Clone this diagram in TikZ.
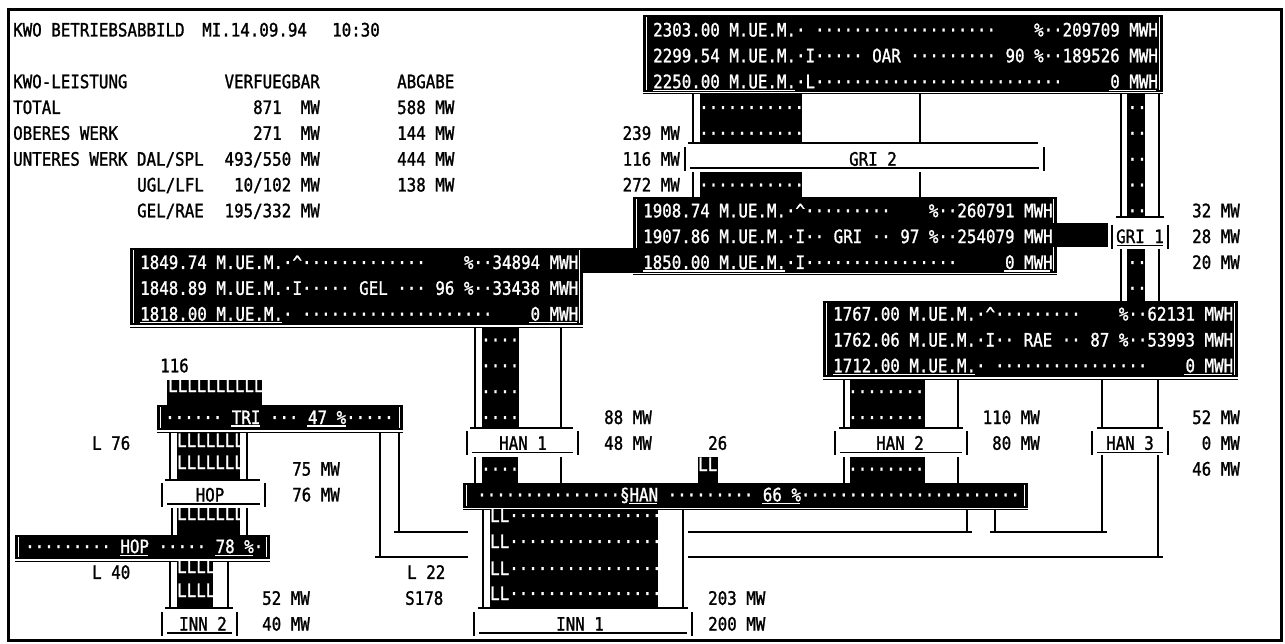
\documentclass[tikz,border=0pt]{standalone}
\usepackage{fontspec}
\newfontfamily\kwofont[FakeStretch=0.855,FakeBold=1.3]{DejaVu Sans Mono}
\newcommand\kf{\kwofont\fontsize{18.5pt}{20pt}\selectfont\frenchspacing}
\newcommand\ks{\hbox to \fontcharwd\font`0{\hfil}}
\ExplSyntaxOn
\cs_new:Npn \kwodt #1 { \prg_replicate:nn {#1} {·} }
\cs_new:Npn \kwosp #1 { \prg_replicate:nn {#1} { \ks } }
\ExplSyntaxOff
\newcommand\lbox[4]{%
  \fill[black] (#1,#2) rectangle (#3,#4);
  \draw[wln] ({#1+3.5},{#2+2}) -- ({#1+3.5},{#4-2});
  \draw[wln] ({#3-3.5},{#2+2}) -- ({#3-3.5},{#4-2});
  \draw[line width=1pt,black] (#1,{#4+2}) -- (#3,{#4+2});}
\newcommand\tk[2]{\draw[ln] ({#1-5},#2) -- ({#1+5},#2);}
\newcommand\labbox[6]{%
  \draw[ln] (#2,{#4-12}) -- (#2,{#4+12});
  \draw[ln] (#3,{#4-12}) -- (#3,{#4+12});
  \draw[ln] ({#2+5},{#4+9}) -- ({#3-5},{#4+9});
  \node[btc] (#1) at (#5,{#4+6.5}) {#6};}
\begin{document}
\begin{tikzpicture}[x=1pt,y=-1pt,
  wt/.style={font=\kf,text=white,inner sep=0pt,anchor=base west},
  bt/.style={font=\kf,text=black,inner sep=0pt,anchor=base west},
  bte/.style={bt,anchor=base east},
  btc/.style={bt,anchor=base},
  ln/.style={line width=1.5pt,black},
  wln/.style={line width=1.2pt,white}]
\useasboundingbox (0,0) rectangle (1285,644);
\fill[white] (0,0) rectangle (1285,644);
\draw[line width=3pt] (8,10) rectangle (1281,640);

% ---------------- header
\node[bt] (h1) at (13,36.5) {KWO\ks BETRIEBSABBILD};
\node[bt] (h2) at (202,36.5) {MI.14.09.94};
\node[bt] (h3) at (332,36.5) {10:30};
\node[bt] (h4) at (13,88.2) {KWO-LEISTUNG};
\node[bte] (h5) at (320,88.2) {VERFUEGBAR};
\node[bt] (h6) at (397,88.2) {ABGABE};
\node[bt] (h7) at (13,114) {TOTAL};
\node[bte] (h8) at (320,114) {871\ks\ks MW};
\node[bt] (h9) at (397,114) {588\ks MW};
\node[bt] (h10) at (13,139.8) {OBERES\ks WERK};
\node[bte] (h11) at (320,139.8) {271\ks\ks MW};
\node[bt] (h12) at (397,139.8) {144\ks MW};
\node[bt] (h13) at (13,165.7) {UNTERES\ks WERK\ks DAL/SPL};
\node[bte] (h14) at (320,165.7) {493/550\ks MW};
\node[bt] (h15) at (397,165.7) {444\ks MW};
\node[bt] (h16) at (137,191.5) {UGL/LFL};
\node[bte] (h17) at (320,191.5) {10/102\ks MW};
\node[bt] (h18) at (397,191.5) {138\ks MW};
\node[bt] (h19) at (137,217.3) {GEL/RAE};
\node[bte] (h20) at (320,217.3) {195/332\ks MW};

% ---------------- OAR
\lbox{643}{15}{1163}{92}
\node[wt] (oar1) at (653,36.5) {2303.00\ks M.UE.M.·\ks\kwodt{19}\kwosp{4}\%··209709\ks MWH};
\node[wt] (oar2) at (653,62.3) {2299.54\ks M.UE.M.·I\kwodt{5}\ks OAR\ks\kwodt{9}\ks 90\ks\%··189526\ks MWH};
\node[wt] (oar3) at (653,88.2) {2250.00\ks M.UE.M.·L\kwodt{26}\kwosp{5}0\ks MWH};
\draw[wln] (653,90.2) -- (795,90.2);
\draw[wln] (1109,90.2) -- (1156,90.2);

% feed OAR -> GRI 2 -> GRI
\fill (700,94) rectangle (802,143);
\node[wt] (f1a) at (699,114) {\kwodt{11}};
\node[wt] (f1b) at (699,139.8) {\kwodt{11}};
\fill (700,172) rectangle (802,198);
\node[wt] (f1c) at (699,191.5) {\kwodt{11}};
\draw[ln] (693,94) -- (693,143); \tk{693}{143}
\draw[ln] (920,94) -- (920,143); \tk{920}{143}
\draw[ln] (693,143) -- (1038,143);
\draw[ln] (693,172) -- (693,198);
\draw[ln] (920,172) -- (920,198);
\labbox{gri2}{685}{1044}{159.2}{873}{GRI\ks 2}
\node[bte] (m1) at (680,139.8) {239\ks MW};
\node[bte] (m2) at (680,165.7) {116\ks MW};
\node[bte] (m3) at (680,191.5) {272\ks MW};

% feed OAR -> GRI 1 -> RAE
\fill (1127,94) rectangle (1145,218);
\fill (1127,249) rectangle (1145,301);
\foreach \yy [count=\i] in {114,139.8,165.7,191.5,217.3,269,294.8}
  \node[wt] (fr\i) at (1127.5,\yy) {··};
\fill[white] (1110,219) rectangle (1170,248);
\draw[ln] (1121,94) -- (1121,217); \tk{1121}{217}
\draw[ln] (1159,94) -- (1159,217); \tk{1159}{217}
\draw[ln] (1121,217) -- (1159,217);
\draw[ln] (1121,249) -- (1121,301);
\draw[ln] (1159,249) -- (1159,301);
\labbox{gri1}{1112}{1168}{236.6}{1140}{GRI\ks 1}
\node[bte] (m4) at (1240,217.3) {32\ks MW};
\node[bte] (m5) at (1240,243.1) {28\ks MW};
\node[bte] (m6) at (1240,269) {20\ks MW};

% ---------------- GRI
\lbox{633}{197}{1057}{273}
\fill (1052,223) rectangle (1108,247);
\node[wt] (gri1t) at (643,217.3) {1908.74\ks M.UE.M.·\textasciicircum\kwodt{9}\kwosp{4}\%··260791\ks MWH};
\node[wt] (gri2t) at (643,243.1) {1907.86\ks M.UE.M.·I··\ks GRI\ks··\ks 97\ks\%··254079\ks MWH};
\node[wt] (gri3t) at (643,269) {1850.00\ks M.UE.M.·I\kwodt{16}\kwosp{5}0\ks MWH};
\draw[wln] (643,271) -- (785,271);
\draw[wln] (1004,271) -- (1050,271);

% ---------------- GEL
\lbox{130}{248.5}{583}{325}
\fill (580,248.5) rectangle (639,273);
\node[wt] (gel1) at (140,269) {1849.74\ks M.UE.M.·\textasciicircum\kwodt{13}\kwosp{4}\%··34894\ks MWH};
\node[wt] (gel2) at (140,294.8) {1848.89\ks M.UE.M.·I\kwodt{5}\ks GEL\ks···\ks 96\ks\%··33438\ks MWH};
\node[wt] (gel3) at (140,320.6) {1818.00\ks M.UE.M.·\ks\kwodt{20}\kwosp{4}0\ks MWH};
\draw[wln] (140,322.6) -- (282,322.6);
\draw[wln] (529,322.6) -- (577,322.6);

% feed GEL -> HAN 1 -> HAN
\fill (482,327) rectangle (519,428);
\foreach \yy [count=\i] in {346.5,372.3,398.1,424}
  \node[wt] (fg\i) at (481,\yy) {····};
\draw[ln] (475,327) -- (475,428); \tk{475}{428}
\draw[ln] (561,327) -- (561,428); \tk{561}{428}
\draw[ln] (475,428) -- (573,428);
\labbox{han1}{467}{578}{443.3}{523}{HAN\ks 1}
\fill (482,457) rectangle (518,483);
\node[wt] (fg5) at (481,475.6) {····};
\draw[ln] (475,457) -- (475,483);
\draw[ln] (561,457) -- (561,483);
\node[bte] (m7) at (652,424) {88\ks MW};
\node[bte] (m8) at (652,449.8) {48\ks MW};

% ---------------- RAE
\lbox{823}{301}{1238}{377}
\node[wt] (rae1) at (833,320.6) {1767.00\ks M.UE.M.·\textasciicircum\kwodt{9}\kwosp{4}\%··62131\ks MWH};
\node[wt] (rae2) at (833,346.5) {1762.06\ks M.UE.M.·I··\ks RAE\ks··\ks 87\ks\%··53993\ks MWH};
\node[wt] (rae3) at (833,372.3) {1712.00\ks M.UE.M.·\ks\kwodt{16}\kwosp{4}0\ks MWH};
\draw[wln] (833,374.3) -- (975,374.3);
\draw[wln] (1184,374.3) -- (1232,374.3);

% feed RAE -> HAN 2 -> HAN
\fill (850,379) rectangle (925,428);
\node[wt] (fh1) at (848,398.1) {\kwodt{8}};
\node[wt] (fh2) at (848,424) {\kwodt{8}};
\draw[ln] (844,379) -- (844,428); \tk{844}{428}
\draw[ln] (958,379) -- (958,428); \tk{958}{428}
\draw[ln] (844,428) -- (962,428);
\labbox{han2}{835}{967}{443.3}{900}{HAN\ks 2}
\fill (850,457) rectangle (925,483);
\node[wt] (fh3) at (848,475.6) {\kwodt{8}};
\draw[ln] (844,457) -- (844,483);
\draw[ln] (958,457) -- (958,483);
\node[bte] (m9) at (1040,424) {110\ks MW};
\node[bte] (m10) at (1040,449.8) {80\ks MW};

% feed RAE -> HAN 3
\draw[ln] (1102,379) -- (1102,428); \tk{1102}{428}
\draw[ln] (1158,379) -- (1158,428); \tk{1158}{428}
\draw[ln] (1102,428) -- (1158,428);
\labbox{han3}{1092}{1168}{443.3}{1130}{HAN\ks 3}
\node[bte] (m11) at (1240,424) {52\ks MW};
\node[bte] (m12) at (1240,449.8) {0\ks MW};
\node[bte] (m13) at (1240,475.6) {46\ks MW};
\draw[ln] (1102,455) -- (1102,532); \tk{1102}{532}
\draw[ln] (1158,455) -- (1158,557); \tk{1158}{557}

% small LL above HAN bar
\fill (698,457) rectangle (718,483);
\node[wt] (ll1) at (698,471) {LL};
\node[bt] (m14) at (708,449.8) {26};

% ---------------- HAN bar
\lbox{463}{482.5}{1028}{507.5}
\node[wt] (hanb) at (477,501.4) {\kwodt{15}§HAN\ks\kwodt{9}\ks 66\ks\%\kwodt{23}};
\draw[wln] (629,503.4) -- (657,503.4);
\draw[wln] (762,503.4) -- (800,503.4);

% lines below HAN bar
\draw[ln] (967,510) -- (967,532); \tk{967}{532}
\draw[ln] (995,510) -- (995,532); \tk{995}{532}
\draw[ln] (688,532) -- (967,532);
\draw[ln] (995,532) -- (1102,532);
\draw[ln] (688,557) -- (1158,557);

% INN 1
\fill (490,510) rectangle (658,608);
\foreach \yy [count=\i] in {522,548,575,600}
  \node[wt] (inr\i) at (490,\yy) {LL\kwodt{16}};
\draw[ln] (483,510) -- (483,608); \tk{483}{608}
\draw[ln] (683,510) -- (683,608); \tk{683}{608}
\draw[ln] (483,608) -- (683,608);
\labbox{inn1}{474}{692}{624.1}{580}{INN\ks 1}
\node[bt] (m15) at (708,604.8) {203\ks MW};
\node[bt] (m16) at (708,630.6) {200\ks MW};

% ---------------- TRI / HOP / INN 2
\node[bt] (m17) at (160,372.3) {116};
\fill (167,380) rectangle (262,405);
\node[wt] (tl) at (168,392) {LLLLLLLLLL};
\lbox{157}{405}{403}{430}
\node[wt] (trib) at (165,424) {\kwodt{6}\ks TRI\ks···\ks 47\ks\%\kwodt{5}};
\draw[wln] (231,426) -- (260,426);
\draw[wln] (307,426) -- (346,426);

\draw[ln] (380,432) -- (380,557); \tk{380}{557}
\draw[ln] (399,432) -- (399,532); \tk{399}{532}
\draw[ln] (380,557) -- (468,557);
\draw[ln] (399,532) -- (468,532);
\node[bt] (m18) at (407,578.9) {L\ks 22};
\node[bt] (m19) at (405,604.8) {S178};

\fill (177,432) rectangle (240,480);
\node[wt] (tl2) at (177,447) {LLLLLLL};
\node[wt] (tl3) at (177,469) {LLLLLLL};
\draw[ln] (170,432) -- (170,480); \tk{170}{480}
\draw[ln] (247,432) -- (247,480); \tk{247}{480}
\draw[ln] (170,480) -- (260,480);
\node[bt] (m20) at (92,449.8) {L\ks 76};
\node[bt] (m21) at (292,475.6) {75\ks MW};
\node[bt] (m22) at (292,501.4) {76\ks MW};
\labbox{hop}{162}{265}{495}{210}{HOP}

\fill (177,508) rectangle (240,535);
\node[wt] (hl1) at (177,520) {LLLLLLL};
\draw[ln] (172,508) -- (172,535);
\draw[ln] (247,508) -- (247,535);

\lbox{15}{535}{270}{559}
\node[wt] (hopb) at (25,553.1) {\kwodt{9}\ks HOP\ks\kwodt{5}\ks 78\ks\%·};
\draw[wln] (120,555.1) -- (148,555.1);
\draw[wln] (215,555.1) -- (253,555.1);
\node[bt] (m23) at (92,578.9) {L\ks 40};

\fill (177,561) rectangle (213,608);
\node[wt] (il1) at (177,573) {LLLL};
\node[wt] (il2) at (177,597) {LLLL};
\draw[ln] (170,561) -- (170,608); \tk{170}{608}
\draw[ln] (228,561) -- (228,608); \tk{228}{608}
\draw[ln] (170,608) -- (228,608);
\labbox{inn2}{162}{237}{624.1}{203}{INN\ks 2}
\node[bt] (m24) at (262,604.8) {52\ks MW};
\node[bt] (m25) at (262,630.6) {40\ks MW};
\end{tikzpicture}
\end{document}
